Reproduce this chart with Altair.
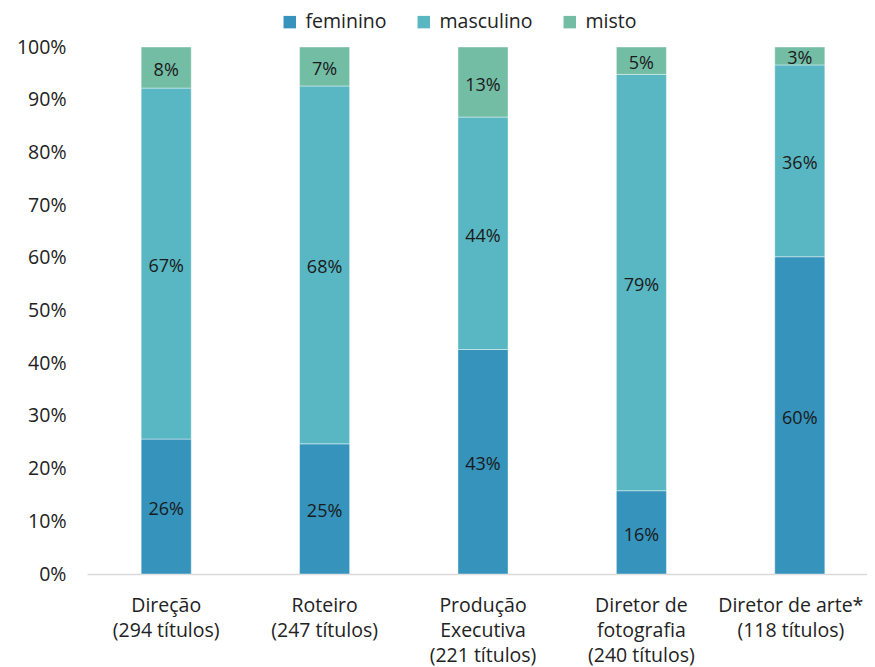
import altair as alt
import pandas as pd

categories = ["Direção|(294 títulos)", "Roteiro|(247 títulos)", "Produção|Executiva|(221 títulos)",
              "Diretor de|fotografia|(240 títulos)", "Diretor de arte*|(118 títulos)"]
feminino = [25.6, 24.7, 42.6, 15.8, 60.2]
masculino = [66.6, 67.9, 44.1, 79.0, 36.4]
misto = [7.8, 7.4, 13.3, 5.2, 3.4]
groups = ["feminino", "masculino", "misto"]
colors = ["#3593BC", "#58B7C2", "#74BDA5"]

rows = []
for i, c in enumerate(categories):
    for g, vals in zip(groups, [feminino, masculino, misto]):
        rows.append({"cat": c, "grupo": g, "valor": vals[i], "ordem": groups.index(g)})
df = pd.DataFrame(rows)

FONT = "Open Sans"
AX = 19.5

base = alt.Chart(df).transform_stack(
    stack="valor", groupby=["cat"], sort=[alt.SortField("ordem", order="ascending")],
    as_=["v0", "v1"]
).transform_calculate(
    mid="(datum.v0 + datum.v1) / 2",
    lab="format(datum.valor, '.0f') + '%'"
)

xscale = alt.Scale(paddingInner=0.684, paddingOuter=0.342, range=[0, 792])

x = alt.X("cat:N", sort=categories, title=None, scale=xscale,
          axis=alt.Axis(labelExpr="split(datum.label, '|')", labelAngle=0, ticks=False,
                        domainColor="#d9d9d9", domainWidth=1.5, labelFontSize=AX,
                        labelLineHeight=25.2, labelPadding=31, labelColor="#222222",
                        labelFont=FONT, labelBaseline="middle",
                        labelOffset=alt.condition("datum.index == 1", alt.value(-9), alt.value(0))))

bars = base.mark_bar(stroke="white", strokeWidth=0.7, strokeOpacity=0.6).encode(
    x=x,
    y=alt.Y("v0:Q", title=None, scale=alt.Scale(domain=[0, 100]),
            axis=alt.Axis(values=list(range(0, 101, 10)), labelExpr="datum.value + '%'",
                          ticks=False, domain=False, grid=False, labelFontSize=AX,
                          labelPadding=21, labelColor="#222222", labelFont=FONT)),
    y2="v1:Q",
    color=alt.Color("grupo:N", scale=alt.Scale(domain=groups, range=colors),
                    legend=alt.Legend(title=None, orient="none", direction="horizontal",
                                      legendX=193, legendY=-35, symbolType="square",
                                      symbolSize=155, symbolStrokeWidth=0, labelFontSize=AX,
                                      labelFont=FONT, labelColor="#222222", columnPadding=27,
                                      labelOffset=6)),
    order=alt.Order("ordem:Q")
)

text = base.mark_text(fontSize=18, font=FONT, color="#1a1a1a", dy=3.5).encode(
    x=alt.X("cat:N", sort=categories, scale=xscale),
    y=alt.Y("mid:Q"),
    text="lab:N"
)

chart = alt.layer(bars, text).properties(
    width=780, height=527,
    autosize=alt.AutoSizeParams(type="none"),
    padding={"left": 79, "top": 39, "right": 0, "bottom": 100}
).configure_view(stroke=None)

chart.save("out.html", embed_options={"renderer": "svg", "actions": False})
